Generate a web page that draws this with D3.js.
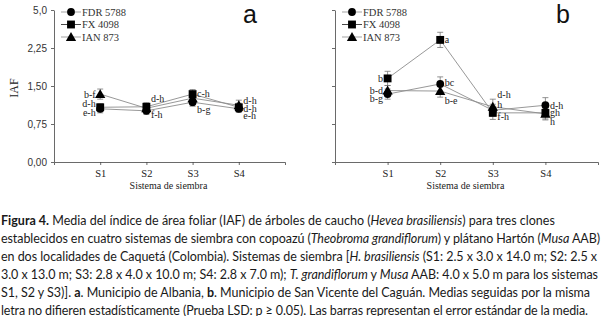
<!DOCTYPE html>
<html>
<head>
<meta charset="utf-8">
<script src="https://cdn.jsdelivr.net/npm/d3@7"></script>
<style>
  body { margin: 0; background: #fff; }
  svg { display: block; }
</style>
</head>
<body>
<svg id="fig" width="601" height="316"></svg>
<script>
// data
const systems = ["S1", "S2", "S3", "S4"];
const cloneNames = ["FDR 5788", "FX 4098", "IAN 873"];
const yTicks = [0, 0.75, 1.5, 2.25, 3.0];
const yTickLabels = ["0,00", "0,75", "1,50", "2,25", "5,0"];

// panel a - Albania
const albaniaFDR = [1.05, 1.01, 1.18, 1.05];
const albaniaFX = [1.08, 1.09, 1.34, 1.08];
const albaniaIAN = [1.34, 1.06, 1.26, 1.12];
const albaniaErrFDR = [0.08, 0.07, 0.08, 0.07];
const albaniaErrFX = [0.07, 0.08, 0.09, 0.08];
const albaniaErrIAN = [0.1, 0.08, 0.08, 0.1];
const albaniaLetFDR = ["e-h", "f-h", "b-g", "e-h"];
const albaniaLetFX = ["d-h", "d-h", "c-h", "d-h"];
const albaniaLetIAN = ["b-f", "", "", "d-h"];

// panel b - San Vicente del Caguan
const caguanFDR = [1.34, 1.54, 1.02, 1.12];
const caguanFX = [1.65, 2.41, 0.97, 0.97];
const caguanIAN = [1.41, 1.40, 1.09, 0.95];
const caguanErrFDR = [0.1, 0.14, 0.12, 0.15];
const caguanErrFX = [0.14, 0.15, 0.13, 0.12];
const caguanErrIAN = [0.1, 0.12, 0.15, 0.12];
const caguanLetFDR = ["b-g", "bc", "h", "d-h"];
const caguanLetFX = ["b", "a", "f-h", "gh"];
const caguanLetIAN = ["b-d", "b-e", "d-h", "h"];

// letter placement (side of marker, vertical nudge in px)
const layoutA = [
  { side: [-1, 1, 1, 1], dy: [4, 4, 7, 7] },
  { side: [-1, 1, 1, 1], dy: [-4, -8, -1, 1] },
  { side: [-1, 1, 1, 1], dy: [0, 0, 0, -5] },
];
const layoutB = [
  { side: [-1, 1, 1, 1], dy: [4, -1, -6, 0] },
  { side: [-1, 1, 1, 1], dy: [0, 0, 4, 0] },
  { side: [-1, 1, 1, 1], dy: [0, 9, -12, 8] },
];

const SERIF = "'Liberation Serif', 'Times New Roman', serif";
const SANS = "'Liberation Sans', Arial, sans-serif";
const symbolTypes = [d3.symbolCircle, d3.symbolSquare, d3.symbolTriangle];
const symbolSizes = [48, 62, 46];
const lineColors = ["#8c8c8c", "#8c8c8c", "#8c8c8c"];
const legendLineColors = ["#999", "#333", "#999"];

const svg = d3.select("#fig");
const plotTop = 10, plotBottom = 162;

function drawPanel(p) {
  const xScale = d3.scaleLinear().domain([0, 5]).range([p.x0, p.x1]);
  const yScale = d3.scaleLinear().domain([0, 3]).range([plotBottom, plotTop]);
  const g = svg.append("g");

  // axes
  const yAxis = d3
    .axisLeft(yScale)
    .tickValues(yTicks)
    .tickSize(3)
    .tickSizeOuter(0)
    .tickFormat((d, i) => (p.showLabels ? yTickLabels[i] : ""));
  g.append("g")
    .attr("transform", `translate(${p.x0},0)`)
    .call(yAxis)
    .call((a) => a.selectAll("text").attr("font-family", SANS).attr("font-size", 10).attr("fill", "#333").attr("dx", -1));

  const xAxis = d3
    .axisBottom(xScale)
    .tickValues([1, 2, 3, 4])
    .tickSize(3)
    .tickSizeOuter(3)
    .tickFormat((d) => systems[d - 1]);
  g.append("g")
    .attr("transform", `translate(0,${plotBottom})`)
    .call(xAxis)
    .call((a) => a.selectAll("text").attr("font-family", SERIF).attr("font-size", 10.5).attr("fill", "#222").attr("dy", "0.9em"));

  g.selectAll(".domain, .tick line").attr("stroke", "#444").attr("stroke-width", 0.8);

  // axis titles
  g.append("text")
    .attr("x", (p.x0 + p.x1) / 2 - 1)
    .attr("y", 189)
    .attr("text-anchor", "middle")
    .attr("font-family", SERIF)
    .attr("font-size", 10)
    .attr("fill", "#222")
    .text("Sistema de siembra");

  if (p.showLabels) {
    g.append("text")
      .attr("transform", "translate(18,88) rotate(-90)")
      .attr("text-anchor", "middle")
      .attr("font-family", SERIF)
      .attr("font-size", 12)
      .attr("fill", "#222")
      .text("IAF");
  }

  // panel letter
  g.append("text")
    .attr("x", p.letterX)
    .attr("y", 23)
    .attr("text-anchor", "middle")
    .attr("font-family", SANS)
    .attr("font-size", 25)
    .attr("fill", "#111")
    .text(p.letter);

  const line = d3
    .line()
    .x((d, i) => xScale(i + 1))
    .y((d) => yScale(d));

  p.series.forEach((s, k) => {
    const sg = g.append("g");
    sg.append("path")
      .datum(s.values)
      .attr("fill", "none")
      .attr("stroke", lineColors[k])
      .attr("stroke-width", 0.9)
      .attr("d", line);

    // error bars
    const eb = sg
      .selectAll(".err")
      .data(s.values.map((v, i) => ({ v, e: s.err[i], i })))
      .join("g")
      .attr("stroke", "#777")
      .attr("stroke-width", 0.8);
    eb.append("line")
      .attr("x1", (d) => xScale(d.i + 1))
      .attr("x2", (d) => xScale(d.i + 1))
      .attr("y1", (d) => yScale(d.v - d.e))
      .attr("y2", (d) => yScale(d.v + d.e));
    [1, -1].forEach((sign) => {
      eb.append("line")
        .attr("x1", (d) => xScale(d.i + 1) - 3)
        .attr("x2", (d) => xScale(d.i + 1) + 3)
        .attr("y1", (d) => yScale(d.v + sign * d.e))
        .attr("y2", (d) => yScale(d.v + sign * d.e));
    });
  });

  // markers on top
  p.series.forEach((s, k) => {
    g.append("g")
      .selectAll("path")
      .data(s.values)
      .join("path")
      .attr("transform", (d, i) => `translate(${xScale(i + 1)},${yScale(d) + (k === 2 ? 1 : 0)})`)
      .attr("d", d3.symbol().type(symbolTypes[k]).size(symbolSizes[k]))
      .attr("fill", "#000");
  });

  // significance letters
  p.series.forEach((s, k) => {
    const lay = p.layout[k];
    g.append("g")
      .selectAll("text")
      .data(s.letters)
      .join("text")
      .attr("x", (d, i) => xScale(i + 1) + lay.side[i] * 4.5)
      .attr("y", (d, i) => yScale(s.values[i]) + lay.dy[i])
      .attr("dy", "0.35em")
      .attr("text-anchor", (d, i) => (lay.side[i] < 0 ? "end" : "start"))
      .attr("font-family", SERIF)
      .attr("font-size", 10)
      .attr("fill", "#222")
      .text((d) => d);
  });

  // legend
  const legend = g.append("g");
  cloneNames.forEach((name, k) => {
    const ly = 12 + k * 12.5;
    legend.append("line")
      .attr("x1", p.x0 + 7)
      .attr("x2", p.x0 + 27)
      .attr("y1", ly)
      .attr("y2", ly)
      .attr("stroke", legendLineColors[k])
      .attr("stroke-width", 0.9);
    legend.append("path")
      .attr("transform", `translate(${p.x0 + 17},${ly + (k === 2 ? 1 : 0)})`)
      .attr("d", d3.symbol().type(symbolTypes[k]).size(symbolSizes[k]))
      .attr("fill", "#000");
    legend.append("text")
      .attr("x", p.x0 + 28)
      .attr("y", ly)
      .attr("dy", "0.35em")
      .attr("font-family", SERIF)
      .attr("font-size", 10.5)
      .attr("fill", "#333")
      .text(name);
  });
}

drawPanel({
  x0: 54, x1: 285, showLabels: true, letter: "a", letterX: 250, layout: layoutA,
  series: [
    { values: albaniaFDR, err: albaniaErrFDR, letters: albaniaLetFDR },
    { values: albaniaFX, err: albaniaErrFX, letters: albaniaLetFX },
    { values: albaniaIAN, err: albaniaErrIAN, letters: albaniaLetIAN },
  ],
});
drawPanel({
  x0: 335, x1: 598, showLabels: false, letter: "b", letterX: 563, layout: layoutB,
  series: [
    { values: caguanFDR, err: caguanErrFDR, letters: caguanLetFDR },
    { values: caguanFX, err: caguanErrFX, letters: caguanLetFX },
    { values: caguanIAN, err: caguanErrIAN, letters: caguanLetIAN },
  ],
});

// caption: each line is a list of [text, style] runs
const captionLines = [
  [["Figura 4.", "b"], [" Media del índice de área foliar (IAF) de árboles de caucho (", ""], ["Hevea brasiliensis", "i"], [") para tres clones", ""]],
  [["establecidos en cuatro sistemas de siembra con copoazú (", ""], ["Theobroma grandiflorum", "i"], [") y plátano Hartón (", ""], ["Musa", "i"], [" AAB)", ""]],
  [["en dos localidades de Caquetá (Colombia). Sistemas de siembra [", ""], ["H. brasiliensis", "i"], [" (S1: 2.5 x 3.0 x 14.0 m; S2: 2.5 x", ""]],
  [["3.0 x 13.0 m; S3: 2.8 x 4.0 x 10.0 m; S4: 2.8 x 7.0 m); ", ""], ["T. grandiflorum", "i"], [" y ", ""], ["Musa", "i"], [" AAB: 4.0 x 5.0 m para los sistemas", ""]],
  [["S1, S2 y S3)]. ", ""], ["a", "b"], [". Municipio de Albania, ", ""], ["b", "b"], [". Municipio de San Vicente del Caguán. Medias seguidas por la misma", ""]],
  [["letra no difieren estadísticamente (Prueba LSD: p ≥ 0.05). Las barras representan el error estándar de la media.", ""]],
];
// first line is left at its natural width (it ends before the margin)
const captionWidths = [null, 599, 596, 597, 589, 587];

const cap = svg.append("g");
captionLines.forEach((runs, i) => {
  const t = cap.append("text")
    .attr("x", 1)
    .attr("y", 225 + i * 17.9)
    .attr("font-family", "Lato, 'Open Sans', sans-serif")
    .attr("font-size", 12.5)
    .attr("fill", "#1a1a1a")
    .attr("textLength", captionWidths[i])
    .attr("lengthAdjust", captionWidths[i] ? "spacing" : null);
  runs.forEach(([txt, st]) => {
    t.append("tspan")
      .attr("font-weight", st === "b" ? "bold" : null)
      .attr("font-style", st === "i" ? "italic" : null)
      .text(txt);
  });
});
</script>
</body>
</html>
